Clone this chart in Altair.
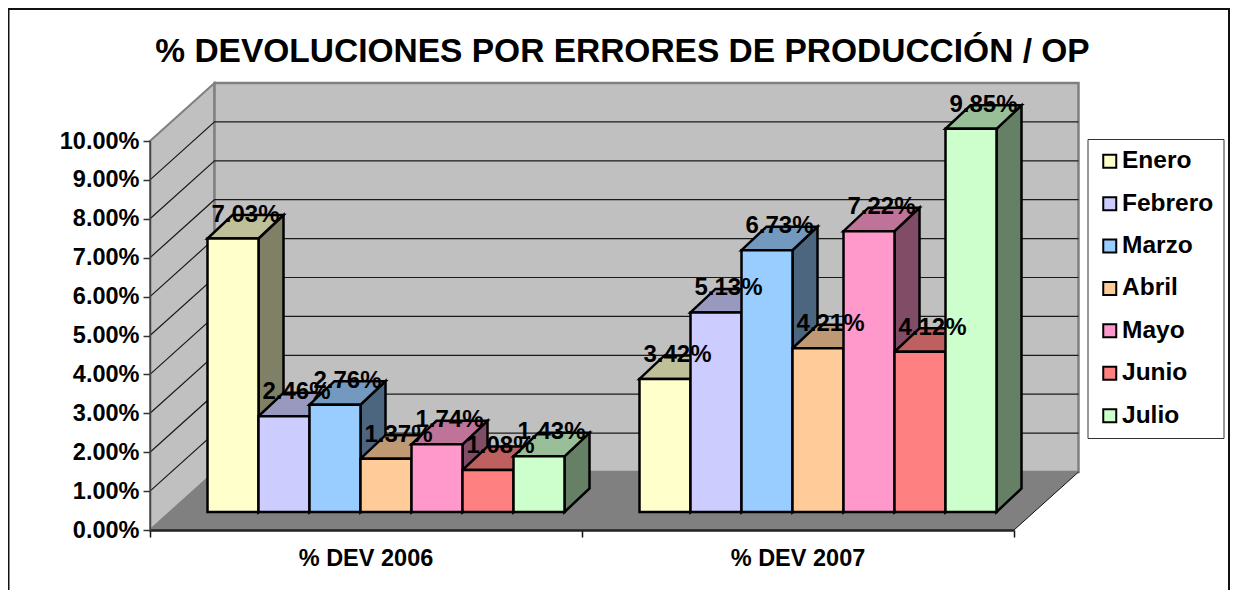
import altair as alt
import pandas as pd

TITLE = "% DEVOLUCIONES POR ERRORES DE PRODUCCIÓN / OP"
GROUPS = ["% DEV 2006", "% DEV 2007"]
MONTHS = ["Enero", "Febrero", "Marzo", "Abril", "Mayo", "Junio", "Julio"]
DEV_2006 = [0.0703, 0.0246, 0.0276, 0.0137, 0.0174, 0.0108, 0.0143]
DEV_2007 = [0.0342, 0.0513, 0.0673, 0.0421, 0.0722, 0.0412, 0.0985]
COLORS = ["#FFFFCC", "#CCCCFF", "#99CCFF", "#FFCC99", "#FF99CC", "#FF8080", "#CCFFCC"]
FONT = "Liberation Sans"

W, H = 864, 389
PX_X = 2 / W          # group units per pixel
PX_Y = 0.10 / H       # value units per pixel
WALL_DX, WALL_DY = 64.5 * PX_X, 58 * PX_Y
BAR_DX, BAR_DY = 25 * PX_X, 23.5 * PX_Y
BAR_W = 51 * PX_X
BAR_START = 57.5 * PX_X
BASE = 18 * PX_Y


def shade(hex_color, f):
    r, g, b = (int(hex_color[i:i + 2], 16) for i in (1, 3, 5))
    return "#%02X%02X%02X" % (round(r * f), round(g * f), round(b * f))


front, sides, tops, labels = [], [], [], []
for g, series in enumerate([DEV_2006, DEV_2007]):
    for i, v in enumerate(series):
        l = g + BAR_START + i * BAR_W
        r = l + BAR_W
        top = BASE + v
        bid = f"{g}-{i}"
        front.append(dict(month=MONTHS[i], l=l, r=r, b=BASE, t=top))
        c_side, c_top = shade(COLORS[i], 0.5), shade(COLORS[i], 0.75)
        sides += [
            dict(id=bid, x=r, y=BASE, y2=top, c=c_side),
            dict(id=bid, x=r + BAR_DX, y=BASE + BAR_DY, y2=top + BAR_DY, c=c_side),
        ]
        tops += [
            dict(id=bid, x=l, y=top, y2=top, c=c_top),
            dict(id=bid, x=l + BAR_DX, y=top, y2=top + BAR_DY, c=c_top),
            dict(id=bid, x=r, y=top, y2=top + BAR_DY, c=c_top),
            dict(id=bid, x=r + BAR_DX, y=top + BAR_DY, y2=top + BAR_DY, c=c_top),
        ]
        labels.append(dict(x=(l + r + BAR_DX) / 2, y=top + BAR_DY + 0.5 * PX_Y, text=f"{v * 100:.2f}%"))

xs = alt.Scale(domain=[0, 2], nice=False)
ys = alt.Scale(domain=[0, 0.10], nice=False)

AX = alt.Axis(
    values=[0, 1, 2], labels=False, title=None, grid=False, tickSize=7,
    tickColor="#111111", tickWidth=1.5, domainColor="#222222", domainWidth=2.5, zindex=1,
)
AY = alt.Axis(
    values=[k / 100 for k in range(0, 11)], format=".2%", title=None, grid=False,
    tickSize=7, tickColor="#333333", tickWidth=1.5, domainColor="#444444", domainWidth=1.5,
    labelFont=FONT, labelFontSize=23.5, labelFontWeight="bold", labelColor="#000000",
    labelPadding=4, zindex=1,
)


def X(f="x"):
    return alt.X(f"{f}:Q", scale=xs, axis=AX)


def Y(f="y"):
    return alt.Y(f"{f}:Q", scale=ys, axis=AY, stack=None)


Y2 = alt.Y2("y2:Q")

# frame
frame = alt.Chart(alt.Data(values=[{"a": 1}])).mark_rect(
    fill="white", stroke="#111111", strokeWidth=2
).encode(
    x=alt.value(-141.5), x2=alt.value(1079), y=alt.value(-132.0), y2=alt.value(470)
)

# walls
wall_side = pd.DataFrame([
    dict(x=0, y=0, y2=0.10),
    dict(x=WALL_DX, y=WALL_DY, y2=0.10 + WALL_DY),
])
wall_back = pd.DataFrame([
    dict(x=WALL_DX, y=WALL_DY, y2=0.10 + WALL_DY),
    dict(x=2 + WALL_DX, y=WALL_DY, y2=0.10 + WALL_DY),
])
floor = pd.DataFrame([
    dict(x=0, y=0, y2=0),
    dict(x=WALL_DX, y=0, y2=WALL_DY),
    dict(x=2, y=0, y2=WALL_DY),
    dict(x=2 + WALL_DX, y=WALL_DY, y2=WALL_DY),
])
side_layer = alt.Chart(wall_side).mark_area(
    fill="#C0C0C0", stroke="#808080", strokeWidth=2
).encode(x=X(), y=Y(), y2=Y2)
back_layer = alt.Chart(wall_back).mark_area(
    fill="#C0C0C0", stroke="#808080", strokeWidth=2.5
).encode(x=X(), y=Y(), y2=Y2)
floor_layer = alt.Chart(floor).mark_area(fill="#808080").encode(x=X(), y=Y(), y2=Y2)

# grid lines run along the side wall, then along the back wall
grid = []
for k in range(1, 10):
    v = k / 100
    grid += [
        dict(k=k, x=0, y=v),
        dict(k=k, x=WALL_DX, y=v + WALL_DY),
        dict(k=k, x=2 + WALL_DX, y=v + WALL_DY),
    ]
grid_layer = alt.Chart(pd.DataFrame(grid)).mark_line(color="#1a1a1a", strokeWidth=1.2).encode(
    x=X(), y=Y(), detail="k:N"
)
edge = pd.DataFrame([dict(x=2, y=0), dict(x=2 + WALL_DX, y=WALL_DY)])
edge_layer = alt.Chart(edge).mark_line(color="#111111", strokeWidth=1).encode(x=X(), y=Y())

# bars
sides_layer = alt.Chart(pd.DataFrame(sides)).mark_area(stroke="#000000", strokeWidth=2.5).encode(
    x=X(), y=Y(), y2=Y2, detail="id:N", fill=alt.Fill("c:N", scale=None)
)
tops_layer = alt.Chart(pd.DataFrame(tops)).mark_area(stroke="#000000", strokeWidth=2.5).encode(
    x=X(), y=Y(), y2=Y2, detail="id:N", fill=alt.Fill("c:N", scale=None)
)
front_layer = alt.Chart(pd.DataFrame(front)).mark_rect(stroke="#000000", strokeWidth=2.5).encode(
    x=X("l"), x2="r:Q", y=alt.Y("b:Q", scale=ys, axis=AY), y2="t:Q",
    color=alt.Color("month:N", sort=MONTHS, scale=alt.Scale(domain=MONTHS, range=COLORS), legend=alt.Legend(
        title=None, orient="none", legendX=937.5, legendY=-2,
        fillColor="#FFFFFF", strokeColor="#333333", padding=10,
        symbolType="square", symbolSize=169, symbolStrokeColor="#000000", symbolStrokeWidth=2,
        labelFont=FONT, labelFontSize=24.5, labelFontWeight="bold", labelColor="#000000",
        labelOffset=0, rowPadding=17.4,
    )),
)
label_layer = alt.Chart(pd.DataFrame(labels)).mark_text(
    font=FONT, fontSize=24, fontWeight="bold", color="#000000", baseline="middle", align="center"
).encode(x=X(), y=alt.Y("y:Q", scale=ys, axis=AY), text="text:N")

# category names
cat_layer = alt.Chart(pd.DataFrame([dict(x=g + 0.5, name=n) for g, n in enumerate(GROUPS)])).mark_text(
    font=FONT, fontSize=23.5, fontWeight="bold", color="#000000", baseline="middle", align="center"
).encode(x=X(), y=alt.value(H + 29), text="name:N")

# chart heading
title_layer = alt.Chart(alt.Data(values=[{"name": TITLE}])).mark_text(
    font=FONT, fontSize=33.5, fontWeight="bold", color="#000000", baseline="middle", align="center"
).encode(x=alt.value(472.5), y=alt.value(-89), text="name:N")

chart = alt.layer(
    frame, side_layer, back_layer, floor_layer, grid_layer, edge_layer,
    sides_layer, tops_layer, front_layer, label_layer, cat_layer, title_layer,
).resolve_scale(
    x="shared", y="shared"
).properties(
    width=W, height=H,
    padding={"left": 142, "top": 133, "right": 216, "bottom": 60},
    autosize=alt.AutoSizeParams(type="none"),
    background="white",
).configure_view(stroke=None)

chart.save("out.html", embed_options={"renderer": "svg", "actions": False})
